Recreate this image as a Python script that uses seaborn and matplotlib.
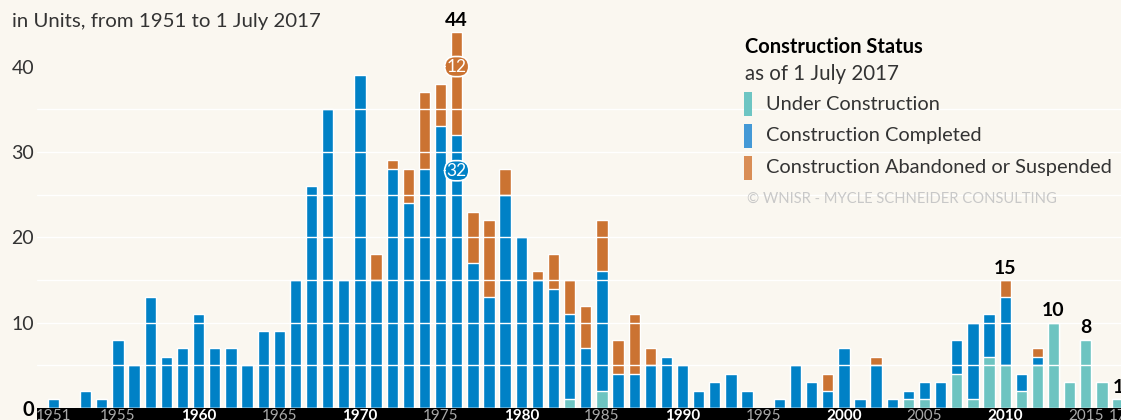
import pandas as pd
import matplotlib.pyplot as plt
import seaborn as sns
from matplotlib.patches import Rectangle

# construction starts per year, split by status as of 1 July 2017
years = list(range(1951, 2018))

under = [0, 0, 0, 0, 0, 0, 0, 0, 0,                 # 1951-1959
         0, 0, 0, 0, 0, 0, 0, 0, 0, 0,              # 1960s
         0, 0, 0, 0, 0, 0, 0, 0, 0, 0,              # 1970s
         0, 0, 0, 1, 0, 2, 0, 0, 0, 0,              # 1980s
         0, 0, 0, 0, 0, 0, 0, 0, 0, 0,              # 1990s
         0, 0, 0, 0, 1, 1, 0, 4, 1, 6,              # 2000s
         5, 2, 5, 10, 3, 8, 3, 1]                   # 2010-2017

completed = [1, 0, 2, 1, 8, 5, 13, 6, 7,
             11, 7, 7, 5, 9, 9, 15, 26, 35, 15,
             39, 15, 28, 24, 28, 33, 32, 17, 13, 25,
             20, 15, 14, 10, 7, 14, 4, 4, 5, 6,
             5, 2, 3, 4, 2, 0, 1, 5, 3, 2,
             7, 1, 5, 1, 1, 2, 3, 4, 9, 5,
             8, 2, 1, 0, 0, 0, 0, 0]

abandoned = [0, 0, 0, 0, 0, 0, 0, 0, 0,
             0, 0, 0, 0, 0, 0, 0, 0, 0, 0,
             0, 3, 1, 4, 9, 5, 12, 6, 9, 3,
             0, 1, 4, 4, 5, 6, 4, 7, 2, 0,
             0, 0, 0, 0, 0, 0, 0, 0, 0, 2,
             0, 0, 1, 0, 0, 0, 0, 0, 0, 0,
             2, 0, 1, 0, 0, 0, 0, 0]

total_labels = {1976: "44", 2010: "15", 2013: "10", 2015: "8", 2017: "1"}
badge_year = 1976

tick_years = [1951, 1955, 1960, 1965, 1970, 1975, 1980, 1985, 1990,
              1995, 2000, 2005, 2010, 2015, 2017]
tick_text = ["1951", "1955", "1960", "1965", "1970", "1975", "1980", "1985",
             "1990", "1995", "2000", "2005", "2010", "2015", "17"]
bold_ticks = ["1960", "1970", "1980", "1990", "2000", "2010"]

legend_labels = ["Under Construction", "Construction Completed",
                 "Construction Abandoned or Suspended"]

BG = "#FAF7F0"
TEAL = "#6DC4C1"
BLUE = "#0081C6"
ORANGE = "#CB7332"
LEG_COLORS = ["#6DC5C3", "#4499D6", "#D98D55"]

sns.set_theme(style="white")
plt.rcParams['font.family'] = ['Lato', 'DejaVu Sans']

df = pd.DataFrame({"year": years, "under": under,
                   "completed": completed, "abandoned": abandoned})
df["mid"] = df["under"] + df["completed"]
df["total"] = df["mid"] + df["abandoned"]

W, H = 1121, 420
fig = plt.figure(figsize=(W / 100, H / 100), dpi=100, facecolor=BG)
ax = fig.add_axes([37 / W, 12 / H, 1 - 37 / W, 408 / H])
ax.set_facecolor(BG)

# stacked look: draw cumulative heights on top of each other
sns.barplot(data=df, x="year", y="total", color=ORANGE, width=0.7,
            saturation=1, errorbar=None, ax=ax)
sns.barplot(data=df, x="year", y="mid", color=BLUE, width=0.7,
            saturation=1, errorbar=None, ax=ax)
sns.barplot(data=df, x="year", y="under", color=TEAL, width=0.7,
            saturation=1, errorbar=None, ax=ax)

for v in [5, 10, 15, 20, 25, 30, 35]:
    ax.axhline(v, color="white", lw=1.0, zorder=3)

ax.set_xlim(-1.02, 66.18)
ax.set_ylim(0, 47.8)
sns.despine(ax=ax, left=True, bottom=True)
ax.set_xlabel("")
ax.set_ylabel("")

# y axis
ax.set_yticks([0, 10, 20, 30, 40])
ax.set_yticklabels(["0", "10", "20", "30", "40"])
ax.tick_params(axis="y", length=0, pad=2, labelsize=14, labelcolor="#333333")
zero = ax.get_yticklabels()[0]
zero.set_fontweight("bold")
zero.set_fontsize(14.5)
zero.set_color("black")

# x axis inside a black band
ax.add_patch(Rectangle((0, -12 / 408), 1, 12 / 408, transform=ax.transAxes,
                       facecolor="black", edgecolor="none", clip_on=False, zorder=0.2))
ax.set_xticks([y - years[0] for y in tick_years])
ax.set_xticklabels(tick_text)
ax.tick_params(axis="x", length=0, pad=1, labelsize=11)
for lab in ax.get_xticklabels():
    if lab.get_text() in bold_ticks:
        lab.set_color("white")
        lab.set_fontweight("bold")
    else:
        lab.set_color("#A8A8A8")

# totals above selected bars
for yr, txt in total_labels.items():
    row = df[df["year"] == yr].iloc[0]
    ax.text(yr - years[0], row["total"] + 1.4, txt, ha="center", va="center",
            fontsize=14, fontweight="bold", color="black", zorder=5)

# badges inside the peak bar
row = df[df["year"] == badge_year].iloc[0]
xb = badge_year - years[0]
ax.text(xb, row["total"] - 4, str(int(row["abandoned"])), ha="center", va="center",
        fontsize=12.5, color="white", zorder=6,
        bbox=dict(boxstyle="round,pad=0.12,rounding_size=0.6", fc=ORANGE, ec="white", lw=1.2))
ax.text(xb, row["mid"] - 4.2, str(int(row["completed"])), ha="center", va="center",
        fontsize=12.5, color="white", zorder=6,
        bbox=dict(boxstyle="round,pad=0.12,rounding_size=0.6", fc=BLUE, ec="white", lw=1.2))

# title
fig.text(12 / W, 1 - 22 / H, "in Units, from 1951 to 1 July 2017", fontsize=14.7,
         color="#333333", ha="left", va="center")

# legend
fig.text(745 / W, 1 - 47 / H, "Construction Status", fontsize=14.5, fontweight="bold",
         color="black", ha="left", va="center")
fig.text(745 / W, 1 - 74 / H, "as of 1 July 2017", fontsize=14.8,
         color="#333333", ha="left", va="center")
for i, (lab, col) in enumerate(zip(legend_labels, LEG_COLORS)):
    yc = 104 + 32 * i
    fig.add_artist(Rectangle((744 / W, 1 - (yc + 12) / H), 8 / W, 24 / H,
                             transform=fig.transFigure, facecolor=col, edgecolor="none"))
    fig.text(766 / W, 1 - yc / H, lab, fontsize=14.4, color="#333333",
             ha="left", va="center")
fig.text(747 / W, 1 - 199 / H, "© WNISR - MYCLE SCHNEIDER CONSULTING", fontsize=10.6,
         color="#C8C8C8", ha="left", va="center")

fig.savefig("out.png", dpi=100, facecolor=BG)
